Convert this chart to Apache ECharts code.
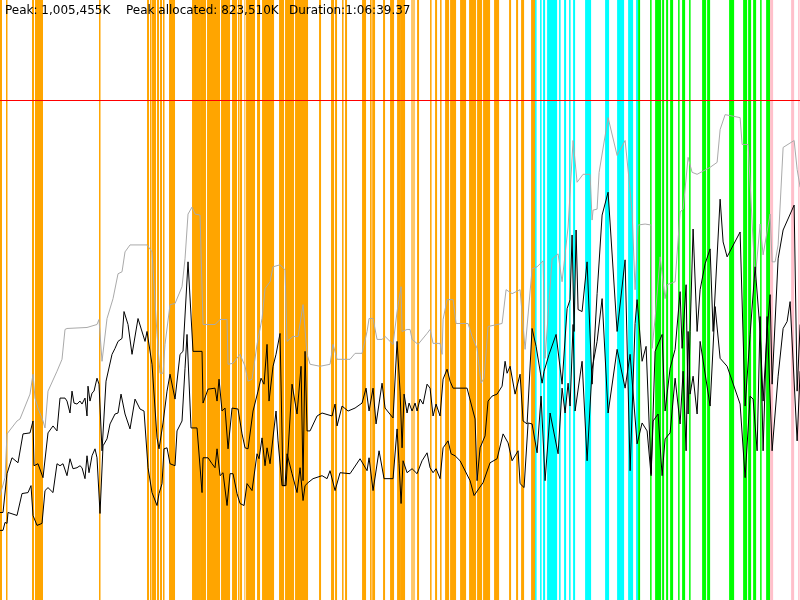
<!DOCTYPE html>
<html>
<head>
<meta charset="utf-8">
<script src="https://cdn.jsdelivr.net/npm/echarts@6/dist/echarts.min.js"></script>
<style>html,body{margin:0;padding:0;background:#fff}#c{width:800px;height:600px}</style>
</head>
<body>
<div id="c"></div>
<script>
// time in seconds, memory in thousands of K
const durationSec = 3999.37;
const memMax = 1206.5;
const peakHeap = 1005.455;
const headerTexts = ['Peak: 1,005,455K', 'Peak allocated: 823,510K', 'Duration:1:06:39.37'];

const heapSize = [[0,210],[25,246],[35,334],[85,360],[100,364],[150,414],[165,454],[175,406],[190,386],[215,360],[225,346],[240,420],[285,460],[310,484],[325,544],[335,546],[435,548],[485,554],[495,564],[510,480],[535,566],[565,606],[590,656],[610,660],[625,700],[650,714],[735,714],[760,700],[785,534],[800,456],[815,456],[825,514],[850,594],[875,596],[910,630],[925,686],[940,776],[960,790],[975,776],[1000,774],[1015,554],[1075,554],[1100,564],[1135,564],[1140,474],[1165,476],[1200,494],[1225,470],[1240,440],[1260,444],[1285,514],[1310,566],[1325,626],[1350,640],[1365,670],[1400,674],[1425,664],[1435,520],[1465,530],[1490,530],[1515,594],[1535,494],[1550,474],[1600,470],[1650,474],[1665,514],[1685,484],[1750,484],[1775,496],[1810,496],[1835,540],[1845,566],[1865,566],[1885,524],[1910,524],[1925,530],[1965,514],[1985,580],[2005,630],[2010,540],[2035,544],[2050,544],[2060,524],[2090,514],[2135,536],[2150,544],[2165,516],[2200,516],[2210,494],[2215,564],[2235,604],[2265,604],[2280,556],[2340,556],[2360,530],[2385,506],[2405,436],[2420,446],[2440,550],[2510,556],[2530,624],[2560,616],[2600,624],[2625,504],[2660,666],[2685,670],[2715,682],[2725,486],[2760,686],[2790,696],[2810,640],[2840,750],[2865,924],[2885,840],[2915,856],[2950,856],[2960,764],[2965,784],[2985,786],[2995,860],[3040,970],[3085,894],[3125,924],[3145,844],[3160,780],[3175,624],[3190,754],[3225,756],[3255,754],[3260,506],[3275,566],[3300,690],[3325,606],[3335,634],[3375,640],[3400,780],[3415,786],[3440,890],[3460,860],[3485,856],[3550,870],[3585,880],[3600,946],[3625,976],[3700,970],[3710,916],[3740,916],[3775,644],[3800,756],[3815,694],[3850,776],[3860,680],[3875,680],[3890,714],[3915,910],[3970,924],[3985,866],[4000,830]];

const usedBefore = [[0,176],[15,176],[35,254],[40,256],[60,286],[90,276],[115,334],[150,336],[165,360],[170,270],[190,274],[215,246],[240,336],[265,350],[285,340],[300,406],[325,406],[335,400],[350,376],[360,420],[370,396],[385,394],[400,400],[410,394],[425,406],[435,370],[440,430],[450,400],[460,416],[470,420],[485,446],[495,434],[510,300],[530,440],[560,494],[575,506],[590,520],[610,526],[620,580],[640,554],[660,494],[690,566],[725,520],[735,540],[760,474],[785,326],[795,304],[815,356],[835,420],[850,454],[875,404],[900,494],[915,500],[940,680],[965,500],[1010,500],[1015,396],[1040,424],[1075,426],[1085,400],[1095,444],[1110,380],[1125,386],[1140,304],[1160,386],[1190,384],[1210,334],[1225,306],[1240,304],[1265,380],[1290,420],[1305,446],[1320,434],[1335,514],[1345,400],[1365,470],[1380,494],[1400,536],[1415,230],[1430,230],[1460,434],[1485,374],[1505,470],[1515,240],[1525,500],[1535,340],[1550,340],[1585,370],[1610,376],[1660,370],[1675,394],[1685,350],[1710,390],[1740,380],[1775,386],[1810,396],[1830,426],[1845,380],[1865,426],[1880,354],[1910,436],[1925,386],[1965,366],[1985,520],[2000,420],[2010,306],[2020,414],[2035,376],[2045,396],[2060,380],[2075,396],[2085,380],[2100,404],[2115,394],[2135,434],[2150,426],[2165,370],[2180,394],[2200,370],[2215,444],[2235,464],[2250,440],[2265,426],[2335,426],[2375,364],[2385,240],[2400,306],[2425,330],[2440,400],[2460,410],[2485,414],[2510,430],[2525,480],[2535,456],[2550,470],[2575,414],[2600,454],[2615,360],[2635,354],[2660,546],[2680,510],[2710,436],[2720,460],[2745,494],[2780,534],[2810,434],[2835,586],[2850,604],[2860,734],[2870,540],[2880,744],[2890,584],[2910,580],[2935,680],[2960,434],[2985,616],[3010,774],[3040,820],[3085,540],[3125,684],[3150,260],[3175,556],[3185,604],[3210,480],[3230,510],[3255,254],[3275,500],[3310,534],[3325,380],[3350,466],[3375,504],[3400,620],[3410,506],[3430,634],[3440,374],[3450,540],[3465,746],[3485,540],[3500,624],[3525,676],[3550,706],[3565,540],[3600,806],[3615,720],[3635,690],[3700,740],[3725,390],[3750,534],[3775,670],[3800,540],[3815,400],[3835,540],[3850,614],[3860,434],[3890,686],[3915,744],[3970,794],[3985,420],[4000,554]];

const usedAfter = [[0,140],[15,140],[25,156],[35,154],[40,176],[85,170],[110,214],[140,216],[155,230],[165,170],[185,150],[210,154],[225,220],[240,226],[265,216],[285,274],[300,270],[315,274],[335,250],[350,284],[365,264],[385,266],[400,270],[410,266],[425,244],[435,290],[445,256],[460,290],[475,304],[485,286],[500,174],[515,310],[535,324],[550,354],[575,374],[590,376],[605,414],[625,374],[650,344],[675,404],[700,384],[720,380],[740,266],[760,216],[785,190],[795,214],[810,234],[820,304],[835,306],[850,274],[875,270],[885,340],[910,360],[925,466],[935,534],[955,346],[985,346],[1010,216],[1015,286],[1040,286],[1060,274],[1075,266],[1085,304],[1100,250],[1115,256],[1135,190],[1150,254],[1165,254],[1185,214],[1200,194],[1220,190],[1235,234],[1260,220],[1285,294],[1295,284],[1310,326],[1325,270],[1335,306],[1350,274],[1380,380],[1390,320],[1410,230],[1425,230],[1435,294],[1460,254],[1485,216],[1500,266],[1515,200],[1525,230],[1540,236],[1565,244],[1610,250],[1635,244],[1650,260],[1675,220],[1700,256],[1750,254],[1800,284],[1835,260],[1845,286],[1865,220],[1895,300],[1920,244],[1965,244],[1985,344],[1995,274],[2005,194],[2015,280],[2035,256],[2060,264],[2085,254],[2110,280],[2135,296],[2150,266],[2165,256],[2180,264],[2200,244],[2215,306],[2240,320],[2255,294],[2275,290],[2300,280],[2350,240],[2370,210],[2415,236],[2450,276],[2485,284],[2515,334],[2540,316],[2560,280],[2590,300],[2600,234],[2620,226],[2640,356],[2660,354],[2685,296],[2705,410],[2725,240],[2750,376],[2790,294],[2810,426],[2825,376],[2840,436],[2850,390],[2865,554],[2875,380],[2910,480],[2935,280],[2960,464],[2985,520],[3010,606],[3040,376],[3085,504],[3125,426],[3150,494],[3185,314],[3210,356],[3235,340],[3255,250],[3265,360],[3290,374],[3310,250],[3325,324],[3350,336],[3375,446],[3400,354],[3415,460],[3430,300],[3440,540],[3450,414],[3465,450],[3485,374],[3500,520],[3550,390],[3575,590],[3600,486],[3635,470],[3700,394],[3725,246],[3750,410],[3765,404],[3785,300],[3800,570],[3815,300],[3835,570],[3860,300],[3890,450],[3915,546],[3935,560],[3950,600],[3985,320],[4000,460]];

// GC event intervals [start s, end s]
const orangeEvents = [[0,10],[30,37],[160,170],[175,215],[495,502],[735,745],[750,755],[760,780],[785,795],[800,810],[815,820],[845,875],[960,1000],[1000,1030],[1035,1100],[1105,1150],[1160,1185],[1190,1195],[1200,1210],[1230,1275],[1285,1300],[1310,1370],[1395,1420],[1425,1470],[1475,1540],[1595,1605],[1655,1670],[1675,1685],[1710,1715],[1725,1735],[1810,1830],[1850,1875],[1915,1925],[1950,1970],[1985,2000],[2000,2025],[2085,2095],[2150,2155],[2175,2185],[2200,2205],[2225,2245],[2250,2280],[2300,2330],[2345,2380],[2385,2410],[2415,2450],[2470,2495],[2545,2555],[2580,2590],[2605,2620],[2655,2675]];
const lightOrangeEvents = [[2055,2075],[1220,1225],[1855,1860]];
const cyanEvents = [[2675,2680],[2700,2705],[2715,2725],[2735,2785],[2795,2800],[2820,2830],[2845,2850],[2865,2875],[2925,2955],[3025,3045],[3085,3120],[3140,3165],[3180,3190]];
const greenEvents = [[3190,3200],[3250,3255],[3275,3305],[3310,3320],[3330,3340],[3350,3365],[3390,3395],[3410,3425],[3445,3450],[3510,3530],[3535,3550],[3645,3670],[3715,3735],[3740,3755],[3765,3780],[3800,3805],[3830,3850]];
const pinkEvents = [[3850,3865],[3955,3970],[3990,3995]];

function barSeries(data, color) {
  return {
    type: 'custom', silent: true, z: 1,
    renderItem: function (params, api) {
      const a = api.coord([api.value(0), memMax]);
      const b = api.coord([api.value(1), 0]);
      return { type: 'rect',
        shape: { x: a[0], y: a[1], width: Math.max(b[0] - a[0], 1.5), height: b[1] - a[1] },
        style: { fill: color } };
    },
    encode: { x: [0, 1] },
    data: data
  };
}

const chart = echarts.init(document.getElementById('c'), null, { renderer: 'canvas' });
const lineCommon = { type: 'line', symbol: 'none', z: 5, silent: true };
chart.setOption({
  animation: false,
  backgroundColor: '#ffffff',
  grid: { left: 0, right: 0, top: 0, bottom: 0 },
  xAxis: { type: 'value', min: 0, max: durationSec, show: false },
  yAxis: { type: 'value', min: 0, max: memMax, show: false },
  series: [
    barSeries(orangeEvents, '#ffa500'),
    barSeries(lightOrangeEvents, '#ffc766'),
    barSeries(cyanEvents, '#00ffff'),
    barSeries(greenEvents, '#00ff00'),
    barSeries(pinkEvents, '#ffc0cb'),
    Object.assign({}, lineCommon, { data: heapSize, lineStyle: { color: '#aaaaaa', width: 1 },
      markLine: { silent: true, symbol: 'none', label: { show: false },
        lineStyle: { color: '#ff0000', width: 1, type: 'solid' }, data: [{ yAxis: peakHeap }] } }),
    Object.assign({}, lineCommon, { data: usedBefore, lineStyle: { color: '#000000', width: 1 } }),
    Object.assign({}, lineCommon, { data: usedAfter, lineStyle: { color: '#000000', width: 1 } })
  ],
  graphic: [
    { type: 'text', left: 5, top: 5, z: 100, style: { text: headerTexts[0], font: '12px "DejaVu Sans"', fill: '#000' } },
    { type: 'text', left: 126, top: 5, z: 100, style: { text: headerTexts[1], font: '12px "DejaVu Sans"', fill: '#000' } },
    { type: 'text', left: 289, top: 5, z: 100, style: { text: headerTexts[2], font: '12px "DejaVu Sans"', fill: '#000' } }
  ]
});
</script>
</body>
</html>
